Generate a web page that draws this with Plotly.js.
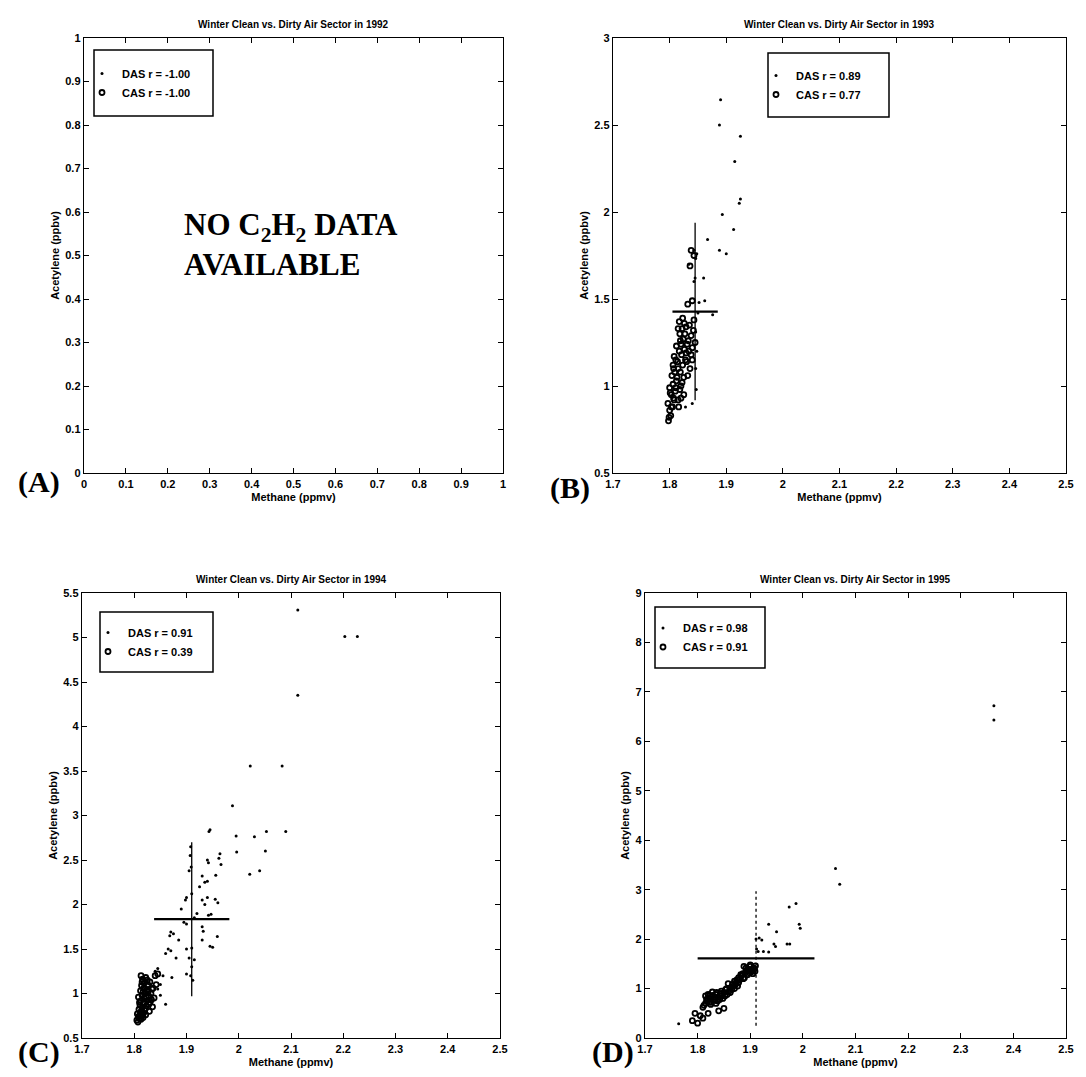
<!DOCTYPE html>
<html>
<head>
<meta charset="utf-8">
<script src="https://cdn.plot.ly/plotly-3.0.1.min.js"></script>
<style>
  html, body { margin: 0; padding: 0; background: #fff; }
  #chart { width: 1086px; height: 1077px; }
</style>
</head>
<body>
<div id="chart"></div>
<script>
// ---------------- DATA ----------------
const years = ["1992", "1993", "1994", "1995"];
const panelLabels = ["(A)", "(B)", "(C)", "(D)"];
const dasR = ["-1.00", "0.89", "0.91", "0.98"];
const casR = ["-1.00", "0.77", "0.39", "0.91"];

// Panel A (1992): no acetylene data
const A_DAS_x = [];
const A_DAS_y = [];
const A_CAS_x = [];
const A_CAS_y = [];

// Panel B (1993)
const B_DAS_x = [1.890, 1.888, 1.925, 1.915, 1.925, 1.923, 1.893, 1.913, 1.867, 1.888, 1.900, 1.846, 1.848, 1.843, 1.834, 1.845, 1.843, 1.860, 1.852, 1.862, 1.876, 1.846, 1.848, 1.846, 1.847, 1.840, 1.828, 1.850];
const B_DAS_y = [2.645, 2.500, 2.436, 2.290, 2.074, 2.050, 1.986, 1.900, 1.842, 1.780, 1.760, 1.733, 1.760, 1.780, 1.700, 1.620, 1.600, 1.620, 1.480, 1.490, 1.410, 1.310, 1.200, 1.100, 0.980, 0.900, 0.880, 1.420];
const B_CAS_x = [1.798, 1.802, 1.800, 1.805, 1.797, 1.808, 1.803, 1.810, 1.800, 1.806, 1.812, 1.804, 1.809, 1.815, 1.806, 1.811, 1.808,
                 1.816, 1.820, 1.818, 1.822, 1.825, 1.819, 1.823, 1.828, 1.821, 1.826, 1.820, 1.824, 1.818, 1.822, 1.817, 1.823,
                 1.832, 1.836, 1.830, 1.838, 1.834, 1.840, 1.833, 1.838, 1.842, 1.835, 1.843, 1.840, 1.845,
                 1.832, 1.840, 1.836, 1.843, 1.838,
                 1.799, 1.803, 1.807, 1.801, 1.811, 1.813, 1.807, 1.814, 1.817, 1.812, 1.819, 1.827, 1.829, 1.815, 1.826, 1.831, 1.829, 1.825, 1.815, 1.820];
const B_CAS_y = [0.80, 0.83, 0.86, 0.88, 0.90, 0.92, 0.95, 0.97, 0.99, 1.01, 1.03, 1.06, 1.08, 1.10, 1.12, 1.15, 1.17,
                 0.88, 0.93, 0.98, 1.02, 1.05, 1.08, 1.12, 1.15, 1.18, 1.21, 1.24, 1.27, 1.30, 1.33, 1.37, 1.39,
                 1.06, 1.10, 1.14, 1.18, 1.20, 1.22, 1.26, 1.29, 1.32, 1.35, 1.38, 1.15, 1.25,
                 1.47, 1.49, 1.69, 1.75, 1.78,
                 0.82, 0.88, 0.93, 0.96, 0.99, 1.05, 1.10, 1.14, 1.20, 1.23, 1.26, 1.30, 1.34, 1.33, 1.36, 1.24, 1.19, 0.95, 0.92, 1.00];
const B_meanX = [1.845];
const B_meanY = [1.428];
const B_sdX = [0.040];
const B_sdY = [0.510];

// Panel C (1994)
const C_DAS_x = [2.113, 2.203, 2.227, 2.113, 2.022, 2.083, 1.988, 1.943, 1.945, 1.995, 2.053, 2.090, 2.030, 1.996, 2.051, 1.964, 1.962, 1.940, 1.942, 1.966, 2.021, 2.040, 1.956, 1.940, 1.930,
                 1.908, 1.907, 1.909, 1.905, 1.900, 1.898, 1.910, 1.930, 1.935, 1.940, 1.955, 1.960, 1.942, 1.947, 1.895, 1.900, 1.930, 1.932, 1.870, 1.868, 1.875, 1.959, 1.950, 1.945,
                 1.860, 1.865, 1.870, 1.900, 1.910, 1.905, 1.915, 1.910, 1.908, 1.912, 1.840, 1.845, 1.872, 1.900, 1.860, 1.850, 1.855, 1.880, 1.885, 1.890, 1.920, 1.925, 1.935, 1.915, 1.930, 1.845, 1.850];
const C_DAS_y = [5.31, 5.01, 5.01, 4.35, 3.555, 3.555, 3.11, 2.82, 2.84, 2.77, 2.82, 2.82, 2.76, 2.59, 2.60, 2.57, 2.52, 2.50, 2.47, 2.45, 2.34, 2.38, 2.33, 2.26, 2.32,
                 2.65, 2.55, 2.42, 2.38, 2.08, 2.05, 2.12, 2.05, 2.00, 2.08, 2.06, 2.02, 1.88, 1.89, 1.80, 1.78, 1.75, 1.70, 1.69, 1.65, 1.67, 1.64, 1.52, 1.53,
                 1.45, 1.50, 1.48, 1.50, 1.51, 1.40, 1.38, 1.30, 1.20, 1.15, 1.25, 1.28, 1.18, 1.22, 0.88, 1.10, 1.20, 1.40, 1.60, 1.95, 1.90, 2.20, 2.25, 1.85, 1.60, 1.05, 0.98];
const C_CAS_x = [1.805, 1.810, 1.808, 1.813, 1.816, 1.806, 1.812, 1.818, 1.809, 1.815, 1.820, 1.811, 1.817, 1.823, 1.813, 1.819, 1.825, 1.815, 1.821,
                 1.812, 1.818, 1.824, 1.814, 1.820, 1.816, 1.822, 1.828, 1.832, 1.830, 1.835, 1.838, 1.826, 1.830, 1.840, 1.845, 1.836, 1.842,
                 1.807, 1.811, 1.814, 1.817, 1.821, 1.819, 1.823, 1.817, 1.815, 1.820, 1.826, 1.828, 1.833, 1.822, 1.810, 1.808, 1.813, 1.825, 1.834, 1.829];
const C_CAS_y = [0.70, 0.72, 0.74, 0.71, 0.75, 0.77, 0.79, 0.78, 0.82, 0.84, 0.81, 0.87, 0.89, 0.86, 0.92, 0.95, 0.92, 0.98, 1.00,
                 1.03, 1.06, 1.04, 1.09, 1.12, 1.16, 1.18, 0.97, 1.00, 0.90, 0.85, 0.95, 1.10, 1.13, 1.20, 1.22, 1.06, 1.10,
                 0.68, 0.76, 0.80, 0.73, 0.83, 0.90, 0.96, 1.02, 1.13, 1.05, 1.02, 0.88, 0.93, 0.76, 0.90, 0.96, 1.20, 1.15, 1.05, 0.80];
const C_meanX = [1.910];
const C_meanY = [1.835];
const C_sdX = [0.072];
const C_sdY = [0.865];

// Panel D (1995)
const D_DAS_x = [2.363, 2.363, 2.062, 2.070, 1.974, 1.987, 1.993, 1.995, 1.935, 1.950, 1.911, 1.917, 1.922, 1.945, 1.948, 1.970, 1.975, 1.915, 1.925, 1.935, 1.912, 1.764];
const D_DAS_y = [6.72, 6.43, 3.43, 3.11, 2.65, 2.72, 2.30, 2.22, 2.30, 2.15, 2.00, 2.02, 1.98, 1.90, 1.85, 1.90, 1.90, 1.75, 1.75, 1.74, 1.80, 0.29];
const D_CAS_x = [1.810, 1.815, 1.818, 1.820, 1.823, 1.826, 1.830, 1.832, 1.835, 1.838, 1.840, 1.843, 1.846, 1.850, 1.853, 1.856, 1.860, 1.863, 1.866, 1.870,
                 1.873, 1.876, 1.880, 1.883, 1.886, 1.889, 1.892, 1.895, 1.898, 1.900, 1.903, 1.906, 1.909, 1.905, 1.895, 1.870, 1.825, 1.820, 1.828, 1.848,
                 1.858, 1.878, 1.888, 1.900, 1.910, 1.790, 1.800, 1.795, 1.810, 1.805, 1.820, 1.840, 1.850,
                 1.812, 1.817, 1.822, 1.828, 1.833, 1.836, 1.842, 1.845, 1.852, 1.855, 1.862, 1.868, 1.872, 1.878, 1.882, 1.887, 1.892, 1.896, 1.902, 1.908, 1.875, 1.865, 1.835, 1.815];
const D_CAS_y = [0.62, 0.70, 0.75, 0.80, 0.85, 0.72, 0.78, 0.83, 0.88, 0.75, 0.82, 0.90, 0.86, 0.92, 0.98, 0.88, 0.95, 1.02, 1.08, 1.00,
                 1.12, 1.05, 1.18, 1.25, 1.30, 1.22, 1.35, 1.40, 1.32, 1.45, 1.38, 1.42, 1.35, 1.30, 1.28, 1.15, 0.68, 0.88, 0.93, 0.80,
                 1.10, 1.22, 1.45, 1.48, 1.46, 0.35, 0.30, 0.50, 0.40, 0.45, 0.50, 0.55, 0.60,
                 0.66, 0.78, 0.73, 0.86, 0.76, 0.92, 0.78, 0.95, 0.85, 1.00, 0.92, 1.05, 1.08, 1.12, 1.28, 1.20, 1.42, 1.36, 1.34, 1.40, 1.18, 0.98, 0.70, 0.85];
const D_meanX = [1.911];
const D_meanY = [1.610];
const D_sdX = [0.111];
const D_sdY = [1.360];

// axis ranges / ticks
const A_xRange = [0, 1], A_yRange = [0, 1], A_dtick = 0.1;
const B_xRange = [1.7, 2.5], B_yRange = [0.5, 3], B_ydtick = 0.5;
const C_xRange = [1.7, 2.5], C_yRange = [0.5, 5.5], C_ydtick = 0.5;
const D_xRange = [1.7, 2.5], D_yRange = [0, 9], D_ydtick = 1;

// ---------------- LAYOUT HELPERS ----------------
const W = 1086, H = 1077;
const px = v => v / W;
const py = v => 1 - v / H;
const tickFamily = '"Liberation Sans Narrow", "Liberation Sans", Arial, sans-serif';
const serif = '"Liberation Serif", "DejaVu Serif", serif';

// plot boxes in pixels: [left, right, top, bottom]
const boxes = [
  [84, 503, 38, 473],
  [613, 1066, 38, 473],
  [82, 500, 593, 1038],
  [645, 1066, 593, 1038]
];

function axis(box, horiz, range, dtick, title, standoff) {
  return {
    domain: horiz ? [px(box[0]), px(box[1])] : [py(box[3]), py(box[2])],
    range: range,
    dtick: dtick,
    tick0: 0,
    autorange: false,
    showline: true, linecolor: '#000', linewidth: 1.3,
    mirror: 'ticks', ticks: 'inside', ticklen: 5, tickwidth: 1, tickcolor: '#000',
    showgrid: false, zeroline: false,
    tickfont: { family: tickFamily, size: 11, color: '#000', weight: 'bold' },
    title: { text: title, standoff: standoff, font: { family: tickFamily, size: 11, color: '#000', weight: 'bold' } },
    fixedrange: true
  };
}

const dasMarker = { symbol: 'circle', size: 3, color: '#000' };
const casMarker = { symbol: 'circle-open', size: 5, color: '#000', line: { width: 1.8, color: '#000' } };

const sets = [
  { dx: A_DAS_x, dy: A_DAS_y, cx: A_CAS_x, cy: A_CAS_y },
  { dx: B_DAS_x, dy: B_DAS_y, cx: B_CAS_x, cy: B_CAS_y, mx: B_meanX, my: B_meanY, sx: B_sdX, sy: B_sdY, vdash: 'solid' },
  { dx: C_DAS_x, dy: C_DAS_y, cx: C_CAS_x, cy: C_CAS_y, mx: C_meanX, my: C_meanY, sx: C_sdX, sy: C_sdY, vdash: 'solid' },
  { dx: D_DAS_x, dy: D_DAS_y, cx: D_CAS_x, cy: D_CAS_y, mx: D_meanX, my: D_meanY, sx: D_sdX, sy: D_sdY, vdash: 'dot' }
];

// an empty series still needs a legend entry: give it a single null (nothing drawn)
const orNull = arr => (arr.length ? arr : [null]);

const traces = [];
sets.forEach((s, i) => {
  const xa = i === 0 ? 'x' : 'x' + (i + 1);
  const ya = i === 0 ? 'y' : 'y' + (i + 1);
  const lg = i === 0 ? 'legend' : 'legend' + (i + 1);
  traces.push({ type: 'scatter', mode: 'markers', x: orNull(s.dx), y: orNull(s.dy), xaxis: xa, yaxis: ya,
    name: 'DAS r = ' + dasR[i], legend: lg, marker: dasMarker, cliponaxis: true, hoverinfo: 'x+y' });
  traces.push({ type: 'scatter', mode: 'markers', x: orNull(s.cx), y: orNull(s.cy), xaxis: xa, yaxis: ya,
    name: 'CAS r = ' + casR[i], legend: lg, marker: casMarker, cliponaxis: true, hoverinfo: 'x+y' });
  if (s.mx) {
    // horizontal bar: mean ± sd in methane
    traces.push({ type: 'scatter', mode: 'lines', xaxis: xa, yaxis: ya, showlegend: false,
      x: [s.mx[0] - s.sx[0], s.mx[0] + s.sx[0]], y: [s.my[0], s.my[0]],
      line: { color: '#000', width: 2.2 }, hoverinfo: 'skip' });
    // vertical bar: mean ± sd in acetylene
    traces.push({ type: 'scatter', mode: 'lines', xaxis: xa, yaxis: ya, showlegend: false,
      x: [s.mx[0], s.mx[0]], y: [s.my[0] - s.sy[0], s.my[0] + s.sy[0]],
      line: { color: '#000', width: 1.3, dash: s.vdash }, hoverinfo: 'skip' });
  }
});

const layout = {
  width: W, height: H,
  margin: { l: 0, r: 0, t: 0, b: 0 },
  paper_bgcolor: '#fff', plot_bgcolor: '#fff',
  font: { family: tickFamily, color: '#000' },
  showlegend: true,
  xaxis:  axis(boxes[0], true,  A_xRange, A_dtick, 'Methane (ppmv)', 4),
  yaxis:  axis(boxes[0], false, A_yRange, A_dtick, 'Acetylene (ppbv)', 3),
  xaxis2: axis(boxes[1], true,  B_xRange, 0.1, 'Methane (ppmv)', 4),
  yaxis2: axis(boxes[1], false, B_yRange, B_ydtick, 'Acetylene (ppbv)', 3),
  xaxis3: axis(boxes[2], true,  C_xRange, 0.1, 'Methane (ppmv)', 4),
  yaxis3: axis(boxes[2], false, C_yRange, C_ydtick, 'Acetylene (ppbv)', 3),
  xaxis4: axis(boxes[3], true,  D_xRange, 0.1, 'Methane (ppmv)', 4),
  yaxis4: axis(boxes[3], false, D_yRange, D_ydtick, 'Acetylene (ppbv)', 3),
  shapes: [], annotations: []
};
['', '2', '3', '4'].forEach((k, i) => {
  layout['xaxis' + k].anchor = 'y' + k;
  layout['yaxis' + k].anchor = 'x' + k;
});

// legend boxes (pixel rectangles: left, right, top, bottom)
const legBoxes = [
  [94, 213, 50, 116],
  [768, 889, 53, 117],
  [100, 213, 612, 672],
  [655, 765, 607, 668]
];
['legend', 'legend2', 'legend3', 'legend4'].forEach((lk, i) => {
  const b = legBoxes[i];
  layout.shapes.push({ type: 'rect', xref: 'paper', yref: 'paper',
    x0: px(b[0]), x1: px(b[1]), y0: py(b[3]), y1: py(b[2]),
    line: { color: '#000', width: 1.5 }, fillcolor: 'rgba(0,0,0,0)', layer: 'above' });
  const inner = (b[3] - b[2]);
  layout[lk] = {
    x: px(b[0] - 12), y: py(b[2] + inner / 2 - 24), xanchor: 'left', yanchor: 'top',
    bgcolor: 'rgba(0,0,0,0)', borderwidth: 0,
    font: { family: tickFamily, size: 11, color: '#000', weight: 'bold' },
    itemwidth: 30, tracegroupgap: 0, itemclick: false, itemdoubleclick: false
  };
});

// titles and panel labels
const labelRight = [62, 592, 62, 636];
const labelY = [482, 488, 1052, 1052];
boxes.forEach((b, i) => {
  layout.annotations.push({
    text: 'Winter Clean vs. Dirty Air Sector in ' + years[i],
    xref: 'paper', yref: 'paper', x: px((b[0] + b[1]) / 2), y: py(b[2] - 6),
    xanchor: 'center', yanchor: 'bottom', showarrow: false,
    font: { family: tickFamily, size: 10, color: '#000', weight: 'bold' }
  });
  layout.annotations.push({
    text: '<b>' + panelLabels[i] + '</b>',
    xref: 'paper', yref: 'paper', x: px(labelRight[i]), y: py(labelY[i]),
    xanchor: 'right', yanchor: 'middle', showarrow: false,
    font: { family: serif, size: 30, color: '#000' }
  });
});

// "no data" note in panel A
layout.annotations.push({
  text: '<b>NO C<sub>2</sub>H<sub>2</sub> DATA<br>AVAILABLE</b>',
  xref: 'x', yref: 'y', x: 0.235, y: 0.525,
  xanchor: 'left', yanchor: 'middle', align: 'left', showarrow: false,
  font: { family: serif, size: 31, color: '#000' }
});

Plotly.newPlot('chart', traces, layout, { displayModeBar: false, staticPlot: true });
</script>
</body>
</html>
